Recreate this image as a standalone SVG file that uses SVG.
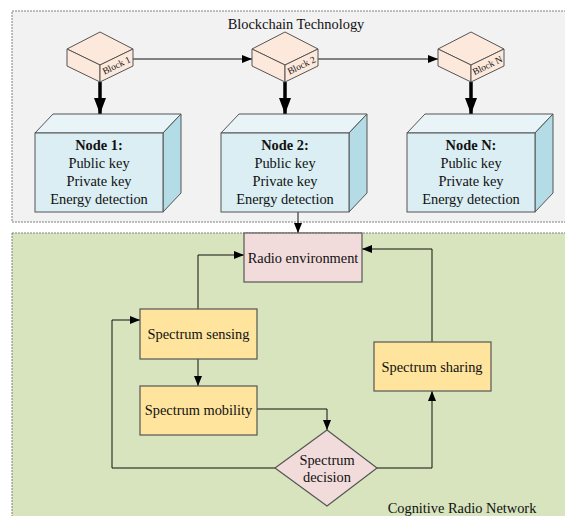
<svg xmlns="http://www.w3.org/2000/svg" width="565" height="516" viewBox="0 0 565 516">
<defs>
<style>
text{font-family:"Liberation Serif","Times New Roman",serif;font-size:14.4px;fill:#111;text-anchor:middle}
.b{font-weight:bold}
.sm{font-size:9.5px}
.region{stroke:#808080;stroke-width:1;stroke-dasharray:2 1}
.blk{fill:#fde9db;stroke:#555;stroke-width:1}
.nf{fill:#daeef3;stroke:#555;stroke-width:1}
.nt{fill:#e8f4f7;stroke:#555;stroke-width:1}
.nr{fill:#b4dce6;stroke:#555;stroke-width:1}
.yel{fill:#fee49c;stroke:#555;stroke-width:1.2}
.pink{fill:#f2dcdb;stroke:#555;stroke-width:1.2}
.ln{fill:none;stroke:#111;stroke-width:1}
.thick{fill:none;stroke:#000;stroke-width:3.5}
</style>
<marker id="ah" viewBox="0 0 10 8" refX="10" refY="4" markerWidth="10" markerHeight="8" markerUnits="userSpaceOnUse" orient="auto">
<path d="M0,0 L10,4 L0,8 Z" fill="#000"/>
</marker>
<marker id="ahb" viewBox="0 0 16 12" refX="16" refY="6" markerWidth="16" markerHeight="12" markerUnits="userSpaceOnUse" orient="auto">
<path d="M0,0 L16,6 L0,12 Z" fill="#000"/>
</marker>
</defs>

<g id="blockchain-region">
<rect class="region" x="12" y="11" width="560" height="211" fill="#f2f2f2"/>
<text x="296" y="29">Blockchain Technology</text>
</g>
<g id="crn-region">
<rect class="region" x="12" y="233" width="560" height="290" fill="#d7e4bd"/>
<text x="462" y="513" style="text-anchor:middle">Cognitive Radio Network</text>
</g>

<g id="connectors">
<path class="ln" d="M133,59 H252" marker-end="url(#ah)"/>
<path class="ln" d="M318,59 H438" marker-end="url(#ah)"/>
<path class="thick" d="M100,82 V114" marker-end="url(#ahb)"/>
<path class="thick" d="M285,82 V114" marker-end="url(#ahb)"/>
<path class="thick" d="M471,82 V114" marker-end="url(#ahb)"/>
<path class="ln" d="M298,212 V233" marker-end="url(#ah)"/>
<path class="ln" d="M198,309 V255 H244" marker-end="url(#ah)"/>
<path class="ln" d="M432,342 V249 H362" marker-end="url(#ah)"/>
<path class="ln" d="M198,359 V386" marker-end="url(#ah)"/>
<path class="ln" d="M257,409 H327 V430" marker-end="url(#ah)"/>
<path class="ln" d="M275,468 H112 V320 H140" marker-end="url(#ah)"/>
<path class="ln" d="M377,468 H432 V391" marker-end="url(#ah)"/>
</g>

<g id="block1">
<path class="blk" d="M100,32 L133,49 L100,65 L67,49 Z"/>
<path class="blk" d="M67,49 L100,65 L100,82 L67,66 Z"/>
<path class="blk" d="M100,65 L133,49 L133,66 L100,82 Z"/>
<text class="sm" x="0" y="3" transform="translate(116.5,65.5) rotate(-26)">Block 1</text>
</g>
<g id="block2">
<path class="blk" d="M285,32 L318,49 L285,65 L252,49 Z"/>
<path class="blk" d="M252,49 L285,65 L285,82 L252,66 Z"/>
<path class="blk" d="M285,65 L318,49 L318,66 L285,82 Z"/>
<text class="sm" x="0" y="3" transform="translate(301.5,65.5) rotate(-26)">Block 2</text>
</g>
<g id="blockN">
<path class="blk" d="M471,32 L504,49 L471,65 L438,49 Z"/>
<path class="blk" d="M438,49 L471,65 L471,82 L438,66 Z"/>
<path class="blk" d="M471,65 L504,49 L504,66 L471,82 Z"/>
<text class="sm" x="0" y="3" transform="translate(487.5,65.5) rotate(-26)">Block N</text>
</g>

<g id="node1">
<path class="nt" d="M35,133 L53,114 L181,114 L163,133 Z"/>
<path class="nr" d="M163,133 L181,114 L181,193 L163,212 Z"/>
<rect class="nf" x="35" y="133" width="128" height="79"/>
<text class="b" x="99" y="150">Node 1:</text>
<text x="99" y="168">Public key</text>
<text x="99" y="186">Private key</text>
<text x="99" y="204">Energy detection</text>
</g>
<g id="node2">
<path class="nt" d="M221,133 L239,114 L367,114 L349,133 Z"/>
<path class="nr" d="M349,133 L367,114 L367,193 L349,212 Z"/>
<rect class="nf" x="221" y="133" width="128" height="79"/>
<text class="b" x="285" y="150">Node 2:</text>
<text x="285" y="168">Public key</text>
<text x="285" y="186">Private key</text>
<text x="285" y="204">Energy detection</text>
</g>
<g id="nodeN">
<path class="nt" d="M407,133 L425,114 L553,114 L535,133 Z"/>
<path class="nr" d="M535,133 L553,114 L553,193 L535,212 Z"/>
<rect class="nf" x="407" y="133" width="128" height="79"/>
<text class="b" x="471" y="150">Node N:</text>
<text x="471" y="168">Public key</text>
<text x="471" y="186">Private key</text>
<text x="471" y="204">Energy detection</text>
</g>

<g id="radio-environment">
<rect class="pink" x="244" y="233" width="118" height="49"/>
<text x="303" y="263">Radio environment</text>
</g>
<g id="spectrum-sensing">
<rect class="yel" x="140" y="309" width="117" height="50"/>
<text x="198.5" y="339">Spectrum sensing</text>
</g>
<g id="spectrum-mobility">
<rect class="yel" x="140" y="386" width="117" height="49"/>
<text x="198.5" y="415">Spectrum mobility</text>
</g>
<g id="spectrum-sharing">
<rect class="yel" x="374" y="342" width="117" height="49"/>
<text x="432" y="372">Spectrum sharing</text>
</g>
<g id="spectrum-decision">
<path class="pink" d="M327,430 L377,468 L327,506 L275,468 Z"/>
<text x="327" y="465">Spectrum</text>
<text x="327" y="482">decision</text>
</g>
</svg>
